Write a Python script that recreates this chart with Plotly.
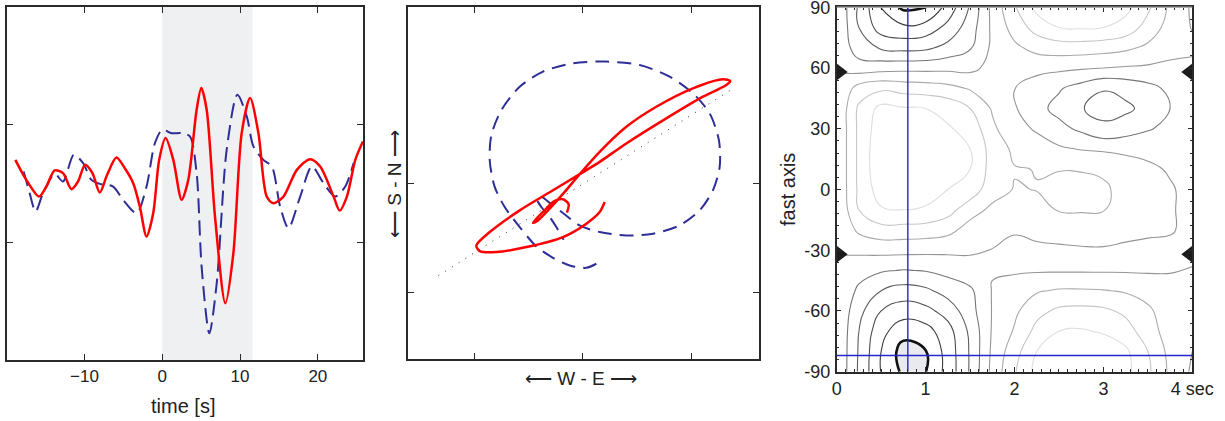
import plotly.graph_objects as go

# ---------------- Panel 1: waveforms ----------------
T_RED = [-18.88, -17.47, -15.84, -14.89, -13.82, -12.75, -11.67, -10.82, -9.91, -8.97, -8.03, -7.08,
         -5.88, -4.81, -3.73, -2.88, -2.02, -1.16, -0.39, 0.43, 1.42, 2.49, 3.35, 4.42, 5.02, 5.71,
         6.78, 8.11, 9.14, 10.21, 11.29, 12.36, 13.43, 14.29, 15.58, 17.30, 19.01, 20.30, 22.02,
         22.79, 23.73, 24.81, 25.79]
Y_RED = [0.201, 0.031, -0.111, -0.026, 0.111, 0.088, -0.048, 0.017, 0.159, 0.088, -0.077, 0.074,
         0.221, 0.130, 0.003, -0.196, -0.451, -0.252, 0.201, 0.386, 0.201, -0.139, 0.031, 0.627,
         0.811, 0.627, -0.281, -1.018, -0.593, 0.428, 0.726, 0.428, -0.111, -0.167, -0.111, 0.116,
         0.207, 0.145, -0.111, -0.230, -0.111, 0.201, 0.357]
T_BLUE = [-17.81, -17.04, -16.27, -15.32, -13.82, -12.75, -11.37, -10.17, -9.10, -8.03, -6.31, -5.02,
          -3.30, -2.02, -0.94, 0.00, 1.20, 2.49, 3.56, 4.42, 5.06, 6.05, 7.00, 8.28, 9.66, 10.86,
          11.72, 13.00, 14.08, 15.15, 16.22, 17.73, 19.23, 20.73, 22.23, 23.52, 24.59]
Y_BLUE = [0.102, -0.082, -0.238, -0.082, 0.082, 0.017, 0.244, 0.173, 0.031, -0.003, -0.026, -0.139,
          -0.252, -0.026, 0.343, 0.456, 0.428, 0.428, 0.400, 0.088, -0.706, -1.273, -0.848, 0.286,
          0.754, 0.570, 0.315, 0.201, 0.145, -0.196, -0.380, -0.111, 0.145, 0.003, -0.111, -0.026,
          0.173]
WINDOW = [0.0, 11.6]
TIME_TICKS = [-10, 0, 10, 20]
AMP_TICKS = [-0.5, 0.5]

# ---------------- Panel 2: particle motion ----------------
PM_RED_E = [-0.147, -0.132, -0.184, -0.260, -0.368, -0.460, -0.414, -0.306, -0.168, -0.030, 0.154,
            0.399, 0.675, 1.012, 1.288, 1.356, 1.319, 1.104, 0.767, 0.399, 0.154, -0.030, -0.276,
            -0.582, -0.858, -0.981, -0.950, -0.797, -0.521, -0.184, 0.031, 0.154, 0.200]
PM_RED_N = [-0.267, -0.190, -0.144, -0.160, -0.261, -0.359, -0.338, -0.230, -0.077, 0.086, 0.291,
            0.521, 0.705, 0.874, 0.957, 0.941, 0.904, 0.797, 0.598, 0.368, 0.199, 0.086, -0.062,
            -0.246, -0.445, -0.568, -0.620, -0.629, -0.583, -0.491, -0.368, -0.261, -0.169]
PM_BLUE_E = [0.123, 0.031, -0.122, -0.276, -0.429, -0.582, -0.720, -0.812, -0.858, -0.843, -0.751,
             -0.582, -0.368, -0.092, 0.215, 0.522, 0.798, 1.012, 1.166, 1.251, 1.258, 1.196, 1.074,
             0.890, 0.644, 0.399, 0.154, -0.031, -0.169, -0.291, -0.383, -0.423, -0.383, -0.306,
             -0.245, -0.178]
PM_BLUE_N = [-0.736, -0.773, -0.752, -0.681, -0.577, -0.399, -0.215, -0.031, 0.214, 0.444, 0.674,
             0.889, 1.027, 1.104, 1.119, 1.088, 0.981, 0.828, 0.644, 0.398, 0.153, -0.062, -0.246,
             -0.384, -0.460, -0.476, -0.445, -0.384, -0.282, -0.190, -0.123, -0.144, -0.215,
             -0.307, -0.399, -0.515]
POL_E = [-1.33, 1.37]
POL_N = [-0.845, 0.865]
PM_TICKS_E = [-1, 0, 1]
PM_TICKS_N = [-1, 0]

# ---------------- Panel 3: energy map ----------------
DT = [0.0, 0.25, 0.5, 0.75, 1.0, 1.25, 1.5, 1.75, 2.0, 2.25, 2.5, 2.75, 3.0, 3.25, 3.5, 3.75, 4.0]
PHI = [-90, -80, -70, -60, -50, -40, -30, -20, -10, 0, 10, 20, 30, 40, 50, 60, 70, 80, 90]
E_M90 = [5.95, 3.85, 1.95, 0.80, 0.97, 2.35, 4.10, 6.30, 7.90, 9.30, 9.70, 9.80, 9.70, 9.30, 8.20, 6.80, 5.85]
E_M80 = [5.95, 3.90, 2.00, 0.55, 0.95, 2.40, 4.10, 6.20, 7.60, 9.00, 9.60, 9.70, 9.60, 9.20, 8.00, 6.70, 6.00]
E_M70 = [5.95, 4.00, 2.30, 1.40, 1.60, 2.60, 4.20, 6.10, 7.10, 8.30, 9.00, 9.10, 8.90, 8.40, 7.50, 6.50, 6.20]
E_M60 = [5.95, 4.30, 3.00, 2.45, 2.70, 3.40, 4.60, 6.05, 6.80, 7.70, 8.20, 8.30, 8.20, 7.80, 7.20, 6.40, 6.30]
E_M50 = [5.96, 4.80, 4.00, 3.60, 3.80, 4.40, 4.80, 6.05, 6.40, 6.90, 7.10, 7.10, 7.05, 6.90, 6.60, 6.30, 6.30]
E_M40 = [5.97, 5.40, 5.10, 4.95, 5.05, 5.30, 5.70, 5.95, 5.90, 5.90, 5.90, 5.90, 5.90, 5.90, 5.90, 5.95, 6.05]
E_M30 = [6.01, 6.20, 6.30, 6.30, 6.25, 6.20, 6.10, 5.98, 5.85, 5.85, 5.85, 5.90, 5.95, 5.90, 5.85, 5.85, 5.80]
E_M20 = [6.03, 7.20, 7.65, 7.60, 7.55, 7.30, 6.60, 6.30, 6.05, 6.20, 6.35, 6.40, 6.23, 6.15, 6.10, 6.05, 5.85]
E_M10 = [6.03, 8.00, 8.90, 9.00, 8.90, 8.40, 7.40, 6.80, 6.50, 6.80, 7.05, 7.10, 7.05, 6.60, 6.30, 6.05, 5.85]
E_P00 = [6.03, 8.20, 9.50, 9.50, 9.40, 9.00, 8.60, 7.40, 6.95, 7.02, 7.25, 7.30, 7.15, 6.70, 6.30, 6.05, 5.85]
E_P10 = [6.03, 8.23, 9.80, 9.70, 9.60, 9.30, 9.00, 7.60, 7.05, 6.98, 6.97, 6.95, 6.85, 6.45, 6.10, 5.95, 5.85]
E_P20 = [6.03, 8.23, 9.80, 9.70, 9.60, 9.30, 9.00, 7.60, 6.80, 6.40, 6.15, 5.95, 5.87, 5.80, 5.85, 5.90, 5.70]
E_P30 = [6.03, 8.23, 9.60, 9.50, 9.40, 9.10, 8.70, 7.20, 6.30, 5.90, 5.30, 4.80, 4.20, 4.50, 4.90, 5.30, 5.50]
E_P40 = [6.03, 8.20, 9.30, 9.10, 9.00, 8.70, 8.00, 6.90, 6.10, 5.30, 4.70, 4.05, 3.70, 3.80, 4.30, 5.00, 5.40]
E_P50 = [6.03, 7.40, 7.80, 7.60, 7.50, 7.30, 6.90, 6.30, 6.02, 5.50, 5.10, 4.60, 4.05, 4.30, 4.70, 5.20, 5.60]
E_P60 = [5.99, 5.50, 5.60, 5.70, 5.70, 5.75, 5.75, 6.30, 6.30, 6.30, 6.20, 6.10, 6.00, 5.90, 5.85, 5.80, 5.75]
E_P70 = [5.97, 4.40, 3.90, 3.70, 3.80, 4.30, 4.90, 6.20, 6.80, 7.30, 7.50, 7.50, 7.40, 7.20, 6.80, 6.30, 6.20]
E_P80 = [5.95, 4.00, 2.50, 2.20, 2.40, 3.30, 4.50, 6.20, 7.40, 8.40, 9.00, 9.10, 9.00, 8.60, 7.60, 6.60, 5.95]
E_P90 = [5.95, 3.85, 1.95, 0.80, 0.97, 2.35, 4.10, 6.30, 7.90, 9.30, 9.70, 9.80, 9.70, 9.30, 8.20, 6.80, 5.85]
ENERGY = [E_M90, E_M80, E_M70, E_M60, E_M50, E_M40, E_M30, E_M20, E_M10, E_P00,
          E_P10, E_P20, E_P30, E_P40, E_P50, E_P60, E_P70, E_P80, E_P90]
CONF_LEVEL = 1
LEVELS = [2, 3, 4, 5, 6, 7, 8, 9]
LEVEL_COLORS = ["#3a3a3a", "#4c4c4c", "#5e5e5e", "#777777", "#959595", "#ababab", "#c6c6c6", "#dedede"]
BEST_DT = 0.8
BEST_PHI = -82
MARK_PHI = [58, -32]
DT_TICKS = [0, 1, 2, 3, 4]
DT_TICKTEXT = ["0", "1", "2", "3", "4 sec"]
PHI_TICKS = [-90, -60, -30, 0, 30, 60, 90]
PHI_TICKTEXT = ["-90", "-60", "-30", "0", "30", "60", "90"]

FONT = "Liberation Sans, Arial, Helvetica, sans-serif"
TXT = "#222222"
FRAME = "#2a2a2a"
RED = "#ff0000"
NAVY = "#2e2e96"
BLUE_LINE = "#2626d0"

fig = go.Figure()

# Panel 1
fig.add_trace(go.Scatter(x=T_BLUE, y=Y_BLUE, mode="lines", xaxis="x", yaxis="y",
                         line=dict(color=NAVY, width=2, dash="15px,7px", shape="spline", smoothing=0.8),
                         hoverinfo="skip"))
fig.add_trace(go.Scatter(x=T_RED, y=Y_RED, mode="lines", xaxis="x", yaxis="y",
                         line=dict(color=RED, width=2.5, shape="spline", smoothing=0.8),
                         hoverinfo="skip"))

# Panel 2
fig.add_trace(go.Scatter(x=POL_E, y=POL_N, mode="lines", xaxis="x2", yaxis="y2",
                         line=dict(color="#333333", width=1, dash="1px,7px"), hoverinfo="skip"))
fig.add_trace(go.Scatter(x=PM_BLUE_E, y=PM_BLUE_N, mode="lines", xaxis="x2", yaxis="y2",
                         line=dict(color=NAVY, width=2, dash="14px,8px", shape="spline", smoothing=0.8),
                         hoverinfo="skip"))
fig.add_trace(go.Scatter(x=PM_RED_E, y=PM_RED_N, mode="lines", xaxis="x2", yaxis="y2",
                         line=dict(color=RED, width=2.5, shape="spline", smoothing=0.8),
                         hoverinfo="skip"))

# Panel 3: contour levels
for lev, col in zip(LEVELS, LEVEL_COLORS):
    fig.add_trace(go.Contour(x=DT, y=PHI, z=ENERGY, xaxis="x3", yaxis="y3",
                             autocontour=False,
                             contours=dict(start=lev, end=lev + 0.5, size=1, coloring="none"),
                             line=dict(color=col, width=1.1, smoothing=1.3),
                             showscale=False, hoverinfo="skip"))
# confidence region (shaded where energy < CONF_LEVEL)
fig.add_trace(go.Contour(x=DT, y=PHI, z=ENERGY, xaxis="x3", yaxis="y3",
                         contours=dict(type="constraint", operation=">", value=CONF_LEVEL),
                         fillcolor="#e9eaee", line=dict(color="#111111", width=2.6, smoothing=1.3),
                         showscale=False, hoverinfo="skip"))

# best-fit cross lines
fig.add_trace(go.Scatter(x=[BEST_DT, BEST_DT], y=[PHI[0], PHI[-1]], mode="lines", xaxis="x3", yaxis="y3",
                         line=dict(color=BLUE_LINE, width=1.4), hoverinfo="skip"))
fig.add_trace(go.Scatter(x=[DT[0], DT[-1]], y=[BEST_PHI, BEST_PHI], mode="lines", xaxis="x3", yaxis="y3",
                         line=dict(color=BLUE_LINE, width=1.4), hoverinfo="skip"))

# markers on panel 3 edges
fig.add_trace(go.Scatter(x=[DT[0]] * len(MARK_PHI), y=MARK_PHI, mode="markers", xaxis="x3", yaxis="y3",
                         marker=dict(symbol="triangle-right", size=22, color="#1c1c1c"),
                         cliponaxis=True, hoverinfo="skip"))
fig.add_trace(go.Scatter(x=[DT[-1]] * len(MARK_PHI), y=MARK_PHI, mode="markers", xaxis="x3", yaxis="y3",
                         marker=dict(symbol="triangle-left", size=22, color="#1c1c1c"),
                         cliponaxis=True, hoverinfo="skip"))

W, H = 1225, 421


def dom_x(a, b):
    return [a / W, b / W]


def dom_y(top, bottom):
    return [1 - bottom / H, 1 - top / H]


axis_common = dict(showgrid=False, zeroline=False, showline=True, linecolor=FRAME, linewidth=1.5,
                   mirror="ticks", ticks="inside", tickcolor=FRAME, tickwidth=1)
tick17 = dict(family=FONT, size=17, color=TXT)
tick18 = dict(family=FONT, size=18, color=TXT)

fig.update_layout(
    width=W, height=H, margin=dict(l=0, r=0, t=0, b=0, autoexpand=False),
    paper_bgcolor="white", plot_bgcolor="white", showlegend=False,
    xaxis=dict(domain=dom_x(7, 363), range=[-19.95, 25.8], tickvals=TIME_TICKS, ticklen=6,
               ticklabelstandoff=0, anchor="y", tickfont=tick17, **axis_common),
    yaxis=dict(domain=dom_y(7, 360), range=[-1.5, 1.5], tickvals=AMP_TICKS, showticklabels=False,
               ticklen=6, anchor="x", **axis_common),
    xaxis2=dict(domain=dom_x(408, 759), range=[-1.61, 1.62], tickvals=PM_TICKS_E, showticklabels=False,
                ticklen=6, anchor="y2", **axis_common),
    yaxis2=dict(domain=dom_y(7, 359), range=[-1.61, 1.62], tickvals=PM_TICKS_N, showticklabels=False,
                ticklen=6, anchor="x2", **axis_common),
    xaxis3=dict(domain=dom_x(836.7, 1192.3), range=[0, 4], tickvals=DT_TICKS, ticktext=DT_TICKTEXT,
                ticklen=5, ticklabelstandoff=0, anchor="y3", ticklabeloverflow="allow", tickfont=tick18,
                minor=dict(ticks="inside", dtick=0.1, ticklen=3, tickcolor=FRAME), **axis_common),
    yaxis3=dict(domain=dom_y(7.3, 371.7), range=[-90, 90], tickvals=PHI_TICKS, ticktext=PHI_TICKTEXT,
                ticklen=5, ticklabelstandoff=1, anchor="x3", ticklabeloverflow="allow", tickfont=tick18,
                minor=dict(ticks="inside", dtick=6, ticklen=3, tickcolor=FRAME), **axis_common),
    shapes=[
        dict(type="rect", xref="x", yref="y domain", x0=WINDOW[0], x1=WINDOW[1], y0=0, y1=1,
             fillcolor="#eff0f2", line=dict(width=0), layer="below"),
        dict(type="line", xref="x3 domain", yref="y3 domain", x0=0, x1=1, y0=1, y1=1,
             line=dict(color="#a8a8a8", width=1.6)),
    ],
    annotations=[
        dict(text="time [s]", xref="paper", yref="paper", x=183 / W, y=1 - 406 / H, showarrow=False,
             xanchor="center", yanchor="middle", font=dict(family=FONT, size=20, color=TXT)),
        dict(text="\u27f5 W - E \u27f6", xref="paper", yref="paper", x=581 / W, y=1 - 378 / H,
             showarrow=False, xanchor="center", yanchor="middle",
             font=dict(family=FONT, size=19, color=TXT)),
        dict(text="\u27f5 S - N \u27f6", xref="paper", yref="paper", x=394 / W, y=1 - 184 / H,
             showarrow=False, textangle=-90, xanchor="center", yanchor="middle",
             font=dict(family=FONT, size=19, color=TXT)),
        dict(text="fast axis", xref="paper", yref="paper", x=788 / W, y=1 - 190 / H,
             showarrow=False, textangle=-90, xanchor="center", yanchor="middle",
             font=dict(family=FONT, size=20, color=TXT)),
    ],
)

fig.write_html("out.html", config={"displayModeBar": False},
               post_script="document.body.style.margin='0';document.body.style.overflow='hidden';")
